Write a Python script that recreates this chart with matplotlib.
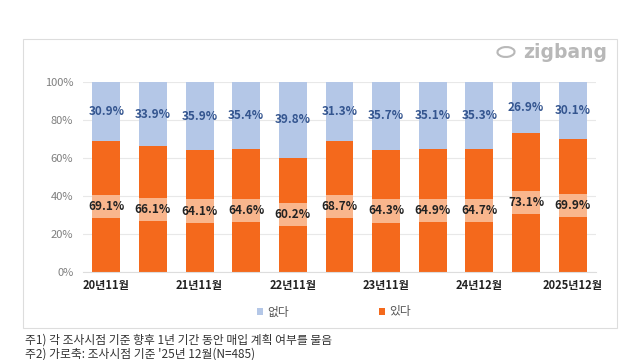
import matplotlib.pyplot as plt
from matplotlib.patches import Rectangle, Ellipse
import numpy as np

plt.rcParams['font.family'] = ['Noto Sans CJK KR', 'DejaVu Sans']

orange = '#F4691C'
blue = '#B4C7E7'
lorange = '#F9B68D'
navy = '#34558F'

yes_vals = [69.1, 66.1, 64.1, 64.6, 60.2, 68.7, 64.3, 64.9, 64.7, 73.1, 69.9]
no_vals = [30.9, 33.9, 35.9, 35.4, 39.8, 31.3, 35.7, 35.1, 35.3, 26.9, 30.1]
tick_labels = ['20년11월', '', '21년11월', '', '22년11월', '', '23년11월', '', '24년12월', '', '2025년12월']

W, H = 640, 360
fig = plt.figure(figsize=(6.4, 3.6), dpi=100)

# outer frame of the chart
fig.patches.append(Rectangle((23/W, 1-328/H), 594/W, 289/H, transform=fig.transFigure,
                             fill=False, edgecolor='#DDDDDD', linewidth=0.8))
# logo
fig.patches.append(Ellipse((506/W, 1-52/H), 17/W, 10/H, angle=-25, transform=fig.transFigure,
                           fill=False, edgecolor='#B8B8B8', linewidth=1.5))
fig.text(607/W, 1-52/H, 'zigbang', ha='right', va='center', fontsize=13.5, fontweight='bold',
         color='#B8B8B8', family=['DejaVu Sans'])

ax = fig.add_axes([83/W, 1-272/H, 513/W, 190/H])
x = np.arange(len(yes_vals))
ax.bar(x, yes_vals, 0.6, color=orange, label='있다', zorder=2)
ax.bar(x, no_vals, 0.6, bottom=yes_vals, color=blue, label='없다', zorder=2)

# light band behind the orange labels
mid = np.array(yes_vals) / 2
ax.bar(x, 12.3, 0.6, bottom=mid - 6.15, color=lorange, zorder=2.5)

for i in range(len(x)):
    ax.text(x[i], mid[i], f'{yes_vals[i]:.1f}%', ha='center', va='center',
            fontsize=8.5, fontweight='bold', color='#222222', zorder=3)
    ax.text(x[i], yes_vals[i] + no_vals[i] / 2, f'{no_vals[i]:.1f}%', ha='center', va='center',
            fontsize=8.5, fontweight='bold', color=navy, zorder=3)

ax.set_xlim(-0.5, len(x) - 0.5)
ax.set_ylim(0, 100)
ax.set_yticks([0, 20, 40, 60, 80, 100])
ax.set_yticklabels(['0%', '20%', '40%', '60%', '80%', '100%'], fontsize=8, color='#7F7F7F')
ax.set_xticks(x)
ax.set_xticklabels(tick_labels, fontsize=8, fontweight='bold', color='#222222')
ax.tick_params(axis='y', length=0, pad=7)
ax.tick_params(axis='x', length=0, pad=5)
ax.grid(axis='y', color='#E8E8E8', linewidth=0.8, zorder=0)
for s in ax.spines.values():
    s.set_visible(False)
ax.spines['bottom'].set_visible(True)
ax.spines['bottom'].set_color('#DDDDDD')

handles, labels = ax.get_legend_handles_labels()
fig.legend(handles[::-1], labels[::-1], loc='center left', bbox_to_anchor=(252/W, 1-312/H), ncol=2,
           frameon=False, fontsize=8.5, handlelength=0.5, handleheight=0.5, columnspacing=7.6,
           handletextpad=0.4, labelcolor='#555555', borderaxespad=0)

fig.text(25/W, 1-340/H, '주1) 각 조사시점 기준 향후 1년 기간 동안 매입 계획 여부를 물음', fontsize=8.5,
         color='#333333', va='center')
fig.text(25/W, 1-354/H, "주2) 가로축: 조사시점 기준 '25년 12월(N=485)", fontsize=8.5,
         color='#333333', va='center')

plt.savefig('out.png', dpi=100)
